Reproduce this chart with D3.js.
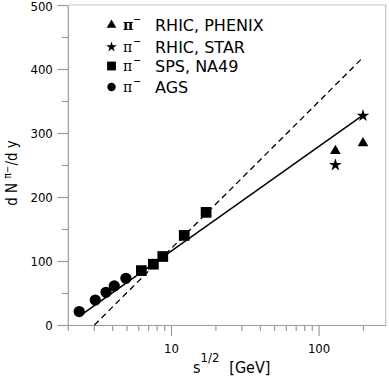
<!DOCTYPE html>
<html>
<head>
<meta charset="utf-8">
<script src="https://cdn.jsdelivr.net/npm/d3@7"></script>
<style>
  body { margin: 0; background: #fff; }
  text { fill: #000; }
</style>
</head>
<body>
<div class="chart"></div>
<script>
// data
var agsX = [2.39, 3.07, 3.63, 4.13, 4.95];
var agsY = [21, 39, 51, 61, 73];
var na49X = [6.3, 7.6, 8.8, 12.3, 17.3];
var na49Y = [85, 95, 107, 140, 176];
var starX = [130, 200];
var starY = [250, 327];
var phenixX = [130, 200];
var phenixY = [272, 284];
var solidX = [2.55, 200];
var solidY = [18, 328];
var dashX = [3.03, 200];
var dashY = [0, 418];

var yMajor = [0, 100, 200, 300, 400, 500];
var yMinor = [50, 150, 250, 350, 450];
var xMajor = [10, 100];
var xMinor = [2, 3, 4, 5, 6, 7, 8, 9, 20, 30, 40, 50, 60, 70, 80, 90, 200];

var legendRows = [
  { sym: d3.symbolTriangle, size: 40, bold: true, label: "RHIC, PHENIX" },
  { sym: d3.symbolStar, size: 34, bold: false, label: "RHIC, STAR" },
  { sym: d3.symbolSquare, size: 78, bold: false, label: "SPS, NA49" },
  { sym: d3.symbolCircle, size: 56, bold: false, label: "AGS" }
];

var W = 389, H = 377;
var font = "'DejaVu Sans Condensed', 'DejaVu Sans', sans-serif";

var svg = d3.select(".chart").append("svg")
    .attr("width", W)
    .attr("height", H)
    .style("display", "block");

var x = d3.scaleLog().domain([2, 285]).range([67.8, 385.7]);
var y = d3.scaleLinear().domain([0, 500]).range([325, 5]);

// frame (top + right)
svg.append("path")
    .attr("d", "M" + x.range()[0] + "," + y(500) + "H" + x.range()[1] + "V" + y(0))
    .attr("fill", "none")
    .attr("stroke", "#c4c4c4")
    .attr("stroke-width", 1.2);

// axes
var gy = svg.append("g")
    .attr("transform", "translate(" + x.range()[0] + ",0)")
    .call(d3.axisLeft(y).tickValues(yMajor).tickSize(10).tickPadding(5).tickSizeOuter(0));
svg.append("g")
    .attr("transform", "translate(" + x.range()[0] + ",0)")
    .call(d3.axisLeft(y).tickValues(yMinor).tickSize(6).tickFormat("").tickSizeOuter(0))
    .select(".domain").remove();

var gx = svg.append("g")
    .attr("transform", "translate(0," + y(0) + ")")
    .call(d3.axisBottom(x).tickValues(xMajor).tickSize(11).tickPadding(8).tickFormat(d3.format("d")).tickSizeOuter(0));
svg.append("g")
    .attr("transform", "translate(0," + y(0) + ")")
    .call(d3.axisBottom(x).tickValues(xMinor).tickSize(6).tickFormat("").tickSizeOuter(0))
    .select(".domain").remove();

svg.selectAll(".domain, .tick line").attr("stroke", "#9a9a9a").attr("stroke-width", 1.2);
svg.selectAll(".tick text")
    .attr("font-family", font)
    .attr("font-size", 13)
    .attr("fill", "#000");

// top label would be clipped at the edge, nudge it down a little
gy.selectAll(".tick text")
    .filter(function(d){ return d === 500; })
    .attr("dy", "0.32em")
    .attr("y", 1.5);

// fit lines
var line = d3.line()
    .x(function(d){ return x(d[0]); })
    .y(function(d){ return y(d[1]); });

svg.append("path")
    .datum(d3.zip(solidX, solidY))
    .attr("d", line)
    .attr("fill", "none")
    .attr("stroke", "#000")
    .attr("stroke-width", 1.5);

svg.append("path")
    .datum(d3.zip(dashX, dashY))
    .attr("d", line)
    .attr("fill", "none")
    .attr("stroke", "#000")
    .attr("stroke-width", 1.3)
    .attr("stroke-dasharray", "6,4");

// points
function drawPoints(xs, ys, sym, size) {
  svg.append("g").selectAll("path")
      .data(d3.zip(xs, ys))
    .enter().append("path")
      .attr("transform", function(d){ return "translate(" + x(d[0]) + "," + y(d[1]) + ")"; })
      .attr("d", d3.symbol().type(sym).size(size))
      .attr("fill", "#000");
}
drawPoints(agsX, agsY, d3.symbolCircle, 100);
drawPoints(na49X, na49Y, d3.symbolSquare, 115);
drawPoints(starX, starY, d3.symbolStar, 50);
drawPoints(phenixX, phenixY, d3.symbolTriangle, 50);

// legend
var legY = [25, 47, 66, 87];
var leg = svg.append("g");
legendRows.forEach(function(r, i) {
  var cy = legY[i];
  leg.append("path")
      .attr("transform", "translate(111.5," + cy + ")")
      .attr("d", d3.symbol().type(r.sym).size(r.size))
      .attr("fill", "#000");
  leg.append("text")
      .attr("x", 123).attr("y", cy + 5)
      .attr("font-family", "'DejaVu Serif', serif")
      .attr("font-size", 14)
      .attr("font-weight", r.bold ? "bold" : "normal")
      .text("\u03c0");
  leg.append("text")
      .attr("x", 133).attr("y", cy - 2)
      .attr("font-family", font)
      .attr("font-size", 11)
      .text("\u2212");
  leg.append("text")
      .attr("x", 155).attr("y", cy + 5.5)
      .attr("font-family", "'DejaVu Sans', sans-serif")
      .attr("font-size", 16)
      .text(r.label);
});

// x axis title
var xt = svg.append("text")
    .attr("x", 193).attr("y", 373)
    .attr("font-family", font)
    .attr("font-size", 16);
xt.append("tspan").text("s");
xt.append("tspan").attr("dy", -11).attr("font-size", 13).text("1/2");
xt.append("tspan").attr("dy", 11).attr("dx", 10).text("[GeV]");

// y axis title
var yt = svg.append("text")
    .attr("transform", "translate(17,173) rotate(-90)")
    .attr("text-anchor", "middle")
    .attr("font-family", font)
    .attr("font-size", 15);
yt.append("tspan").text("d N ");
yt.append("tspan").attr("dy", -6).attr("font-size", 10).text("\u03c0\u2212");
yt.append("tspan").attr("dy", 6).text("/d y");
</script>
</body>
</html>
